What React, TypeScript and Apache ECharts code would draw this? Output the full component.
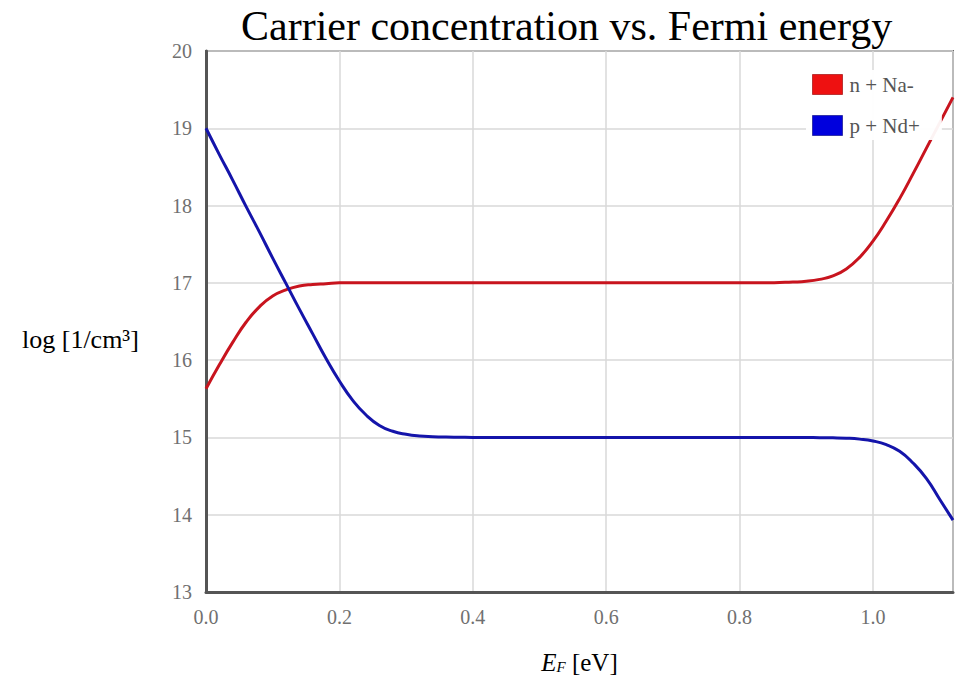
import React, { useEffect, useRef } from "react";
import * as echarts from "echarts";

const titleText = "Carrier concentration vs. Fermi energy";
const seriesNames = ["n + Na-", "p + Nd+"];
const yTicks = [13, 14, 15, 16, 17, 18, 19, 20];
const xTicks = [0, 0.2, 0.4, 0.6, 0.8, 1.0];

// Fermi energy (eV)
const energies = [
  0, 0.02, 0.04, 0.06, 0.08, 0.1, 0.12, 0.14, 0.16, 0.18, 0.2, 0.22, 0.24, 0.26, 0.28,
  0.3, 0.32, 0.34, 0.36, 0.38, 0.4, 0.42, 0.44, 0.46, 0.48, 0.5, 0.52, 0.54, 0.56,
  0.58, 0.6, 0.62, 0.64, 0.66, 0.68, 0.7, 0.72, 0.74, 0.76, 0.78, 0.8, 0.82, 0.84,
  0.86, 0.88, 0.9, 0.92, 0.94, 0.96, 0.98, 1.0, 1.02, 1.04, 1.06, 1.08, 1.1, 1.12,
];

// log10(n + Na-)
const nValues = [
  15.63, 15.94, 16.23, 16.49, 16.69, 16.83, 16.91, 16.96, 16.98, 16.99, 17.0, 17.0, 17.0,
  17.0, 17.0, 17.0, 17.0, 17.0, 17.0, 17.0, 17.0, 17.0, 17.0, 17.0, 17.0, 17.0, 17.0,
  17.0, 17.0, 17.0, 17.0, 17.0, 17.0, 17.0, 17.0, 17.0, 17.0, 17.0, 17.0, 17.0, 17.0,
  17.0, 17.0, 17.005, 17.01, 17.02, 17.045, 17.09, 17.18, 17.33, 17.54, 17.8, 18.09,
  18.41, 18.74, 19.07, 19.4,
];

// log10(p + Nd+)
const pValues = [
  19.0, 18.66, 18.33, 17.99, 17.66, 17.32, 16.99, 16.66, 16.34, 16.02, 15.73, 15.48,
  15.29, 15.155, 15.08, 15.04, 15.018, 15.009, 15.004, 15.002, 15.0, 15.0, 15.0, 15.0,
  15.0, 15.0, 15.0, 15.0, 15.0, 15.0, 15.0, 15.0, 15.0, 15.0, 15.0, 15.0, 15.0, 15.0,
  15.0, 15.0, 15.0, 15.0, 15.0, 15.0, 15.0, 14.999, 14.997, 14.995, 14.99, 14.978,
  14.954, 14.907, 14.82, 14.67, 14.47, 14.2, 13.93,
];

export default function App() {
  const ref = useRef<HTMLDivElement>(null);
  useEffect(() => {
    if (!ref.current) return;
    const chart = echarts.init(ref.current, null, { renderer: "svg" });
    const serif = "Liberation Serif";
    chart.setOption({
      animation: false,
      backgroundColor: "#ffffff",
      title: {
        text: titleText,
        left: 236,
        top: 0,
        textStyle: { fontFamily: serif, fontSize: 42, fontWeight: "normal", color: "#000" },
      },
      legend: {
        left: 806,
        top: 70,
        orient: "vertical",
        backgroundColor: "rgba(255,255,255,0.95)",
        padding: [4, 22, 4, 6],
        itemWidth: 30,
        itemHeight: 20,
        itemGap: 20,
        icon: "rect",
        textStyle: { fontFamily: serif, fontSize: 21, color: "#555", padding: [0, 0, 0, 2] },
        data: [
          { name: seriesNames[0], itemStyle: { color: "#ee1111", borderColor: "#bb3333", borderWidth: 1 } },
          { name: seriesNames[1], itemStyle: { color: "#0000dd", borderColor: "#3333aa", borderWidth: 1 } },
        ],
      },
      grid: {
        left: 206,
        right: 5,
        top: 51,
        bottom: 89,
        show: true,
        borderColor: "#666",
        borderWidth: 2,
        backgroundColor: "transparent",
      },
      xAxis: {
        type: "value",
        min: 0,
        max: 1.12,
        interval: 0.2,
        axisLine: { show: true, onZero: false, lineStyle: { color: "#555", width: 3 } },
        axisTick: { show: false },
        splitLine: { show: true, lineStyle: { color: "#d8d8d8", width: 1.5 } },
        axisLabel: {
          showMaxLabel: false,
          margin: 15,
          fontFamily: serif,
          fontSize: 20,
          color: "#707070",
          formatter: (v: number) => (xTicks.some((t) => Math.abs(t - v) < 1e-9) ? v.toFixed(1) : ""),
        },
        name: "{i|E}{s|F}{r| [eV]}",
        nameLocation: "middle",
        nameGap: 58,
        nameTextStyle: {
          rich: {
            i: { fontFamily: serif, fontStyle: "italic", fontSize: 25, color: "#000" },
            s: { fontFamily: serif, fontStyle: "italic", fontSize: 15, color: "#000", padding: [8, 0, 0, 0] },
            r: { fontFamily: serif, fontSize: 25, color: "#000" },
          },
        },
      },
      yAxis: {
        type: "value",
        min: 13,
        max: 20,
        interval: 1,
        axisLine: { show: true, onZero: false, lineStyle: { color: "#555", width: 3 } },
        axisTick: { show: false },
        splitLine: { show: true, lineStyle: { color: "#d8d8d8", width: 1.5 } },
        axisLabel: {
          margin: 14,
          fontFamily: serif,
          fontSize: 20,
          color: "#707070",
          formatter: (v: number) => (yTicks.includes(v) ? String(v) : ""),
        },
      },
      graphic: [
        {
          type: "text",
          left: 22,
          top: 326,
          style: { text: "log [1/cm³]", font: "26px 'Liberation Serif'", fill: "#000" },
        },
      ],
      series: [
        {
          name: seriesNames[0],
          type: "line",
          data: energies.map((e, i) => [e, nValues[i]]),
          smooth: true,
          showSymbol: false,
          lineStyle: { color: "#c8141e", width: 3 },
          itemStyle: { color: "#ee1111" },
          z: 2,
        },
        {
          name: seriesNames[1],
          type: "line",
          data: energies.map((e, i) => [e, pValues[i]]),
          smooth: true,
          showSymbol: false,
          lineStyle: { color: "#1414aa", width: 3 },
          itemStyle: { color: "#0000dd" },
          z: 3,
        },
      ],
    });
    return () => chart.dispose();
  }, []);
  return <div ref={ref} style={{ width: 958, height: 681, position: "fixed", left: 0, top: 0 }} />;
}
